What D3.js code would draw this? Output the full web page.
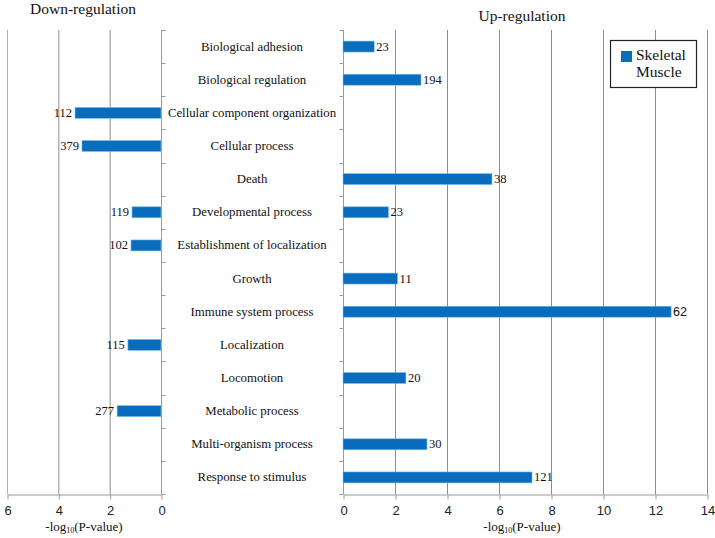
<!DOCTYPE html>
<html><head><meta charset="utf-8">
<script src="https://cdn.jsdelivr.net/npm/d3@7/dist/d3.min.js"></script>
<style>body{margin:0;background:#fff}svg{display:block}</style>
</head><body>
<script>
const categories = ["Biological adhesion","Biological regulation","Cellular component organization","Cellular process","Death","Developmental process","Establishment of localization","Growth","Immune system process","Localization","Locomotion","Metabolic process","Multi-organism process","Response to stimulus"];
const downValues = [null,null,3.35,3.08,null,1.13,1.17,null,null,1.29,null,1.71,null,null];
const downCounts = [null,null,112,379,null,119,102,null,null,115,null,277,null,null];
const upValues = [1.2,3.0,null,null,5.73,1.75,null,2.1,12.62,null,2.42,null,3.23,7.27];
const upCounts = [23,194,null,null,38,23,null,11,62,null,20,null,30,121];
const downTicks = [0,2,4,6];
const upTicks = [0,2,4,6,8,10,12,14];
const seriesName = ["Skeletal","Muscle"];

const W=715,H=538;
const svg=d3.select("body").append("svg").attr("width",W).attr("height",H);
const serif="Liberation Serif, Times New Roman, serif";
const sans="Liberation Sans, Arial, sans-serif";
const barColor="#0a6cbc";
const yTop=30,yBot=494;
const y=d3.scaleBand().domain(categories).range([yTop,yBot]);
const xL=d3.scaleLinear().domain([0,6]).range([161,7]);
const xR=d3.scaleLinear().domain([0,14]).range([343,707]);
const bh=11;

// gridlines
svg.append("g").selectAll("line").data(downTicks.filter(d=>d>0)).join("line")
 .attr("x1",d=>xL(d)+0.5).attr("x2",d=>xL(d)+0.5).attr("y1",yTop).attr("y2",yBot)
 .attr("stroke",d=>d===6?"#b0b0b0":"#8c8c8c").attr("stroke-width",1);
svg.append("g").selectAll("line").data(upTicks.filter(d=>d>0)).join("line")
 .attr("x1",d=>xR(d)+0.5).attr("x2",d=>xR(d)+0.5).attr("y1",yTop).attr("y2",yBot)
 .attr("stroke","#8c8c8c").attr("stroke-width",1);

// x axes
function styleAxis(g){
  g.selectAll(".domain").attr("stroke","#9a9a9a");
  g.selectAll(".tick line").attr("stroke","#9a9a9a");
  g.selectAll(".tick text").attr("font-family",sans).attr("font-size",13).attr("fill","#222");
}
svg.append("g").attr("transform",`translate(0.5,${yBot+0.5})`)
 .call(d3.axisBottom(xL).tickValues(downTicks).tickFormat(d3.format("d")).tickSize(5).tickSizeOuter(0).tickPadding(6)).call(styleAxis);
svg.append("g").attr("transform",`translate(0.5,${yBot+0.5})`)
 .call(d3.axisBottom(xR).tickValues(upTicks).tickFormat(d3.format("d")).tickSize(5).tickSizeOuter(0).tickPadding(6)).call(styleAxis);

// y axes with boundary ticks
const bounds=d3.range(categories.length+1).map(i=>yTop+i*y.step());
function yAxis(x,dir){
  const g=svg.append("g");
  g.append("line").attr("x1",x+0.5).attr("x2",x+0.5).attr("y1",yTop).attr("y2",yBot).attr("stroke","#9a9a9a");
  g.selectAll("line.t").data(bounds).join("line").attr("class","t")
   .attr("x1",x+0.5).attr("x2",x+0.5+dir*4).attr("y1",d=>Math.round(d)+0.5).attr("y2",d=>Math.round(d)+0.5).attr("stroke","#9a9a9a");
}
yAxis(xL(0),1);
yAxis(xR(0),-1);

// bars
const cy=c=>y(c)+y.bandwidth()/2;
const dd=categories.map((c,i)=>({c,v:downValues[i],n:downCounts[i]})).filter(d=>d.v!=null);
const ud=categories.map((c,i)=>({c,v:upValues[i],n:upCounts[i]})).filter(d=>d.v!=null);
svg.append("g").selectAll("rect").data(dd).join("rect")
 .attr("x",d=>xL(d.v)).attr("width",d=>xL(0)-xL(d.v)).attr("y",d=>cy(d.c)-bh/2).attr("height",bh)
 .attr("fill",barColor).attr("stroke","#7fc0ec").attr("stroke-width",0.6);
svg.append("g").selectAll("rect").data(ud).join("rect")
 .attr("x",xR(0)).attr("width",d=>xR(d.v)-xR(0)).attr("y",d=>cy(d.c)-bh/2).attr("height",bh)
 .attr("fill",barColor).attr("stroke","#7fc0ec").attr("stroke-width",0.6);
svg.append("g").selectAll("text").data(dd).join("text")
 .attr("x",d=>xL(d.v)-3).attr("y",d=>cy(d.c)+4).attr("text-anchor","end")
 .attr("font-family",serif).attr("font-size",12.5).attr("fill","#111").text(d=>d.n);
svg.append("g").selectAll("text").data(ud).join("text")
 .attr("x",d=>xR(d.v)+2).attr("y",d=>cy(d.c)+4).attr("text-anchor","start")
 .attr("font-family",d=>d.n===62?sans:serif).attr("font-size",12.5).attr("fill","#111").text(d=>d.n);

// category labels
svg.append("g").selectAll("text").data(categories).join("text")
 .attr("x",252).attr("y",d=>cy(d)+4).attr("text-anchor","middle")
 .attr("font-family",serif).attr("font-size",12.8).attr("fill","#111").text(d=>d);

// titles
svg.append("text").attr("x",83).attr("y",14).attr("text-anchor","middle").attr("font-family",serif).attr("font-size",15.5).attr("fill","#111").text("Down-regulation");
svg.append("text").attr("x",522).attr("y",21).attr("text-anchor","middle").attr("font-family",serif).attr("font-size",15.5).attr("fill","#111").text("Up-regulation");

function axTitle(x){
  const t=svg.append("text").attr("x",x).attr("y",531).attr("text-anchor","middle").attr("font-family",serif).attr("font-size",13).attr("fill","#111");
  t.append("tspan").text("-log");
  t.append("tspan").attr("font-size",8).attr("dy",2).text("10");
  t.append("tspan").attr("dy",-2).text("(P-value)");
}
axTitle(84); axTitle(522);

// legend
const lg=svg.append("g");
lg.append("rect").attr("x",610.5).attr("y",40.5).attr("width",86).attr("height",47).attr("fill","#fff").attr("stroke","#222").attr("stroke-width",1.2);
lg.append("rect").attr("x",621).attr("y",51).attr("width",11).attr("height",11).attr("fill",barColor);
lg.selectAll("text.l").data(seriesName).join("text").attr("class","l")
 .attr("x",636).attr("y",(d,i)=>60+i*17).attr("font-family",serif).attr("font-size",15.5).attr("fill","#111").text(d=>d);
</script>
</body></html>
